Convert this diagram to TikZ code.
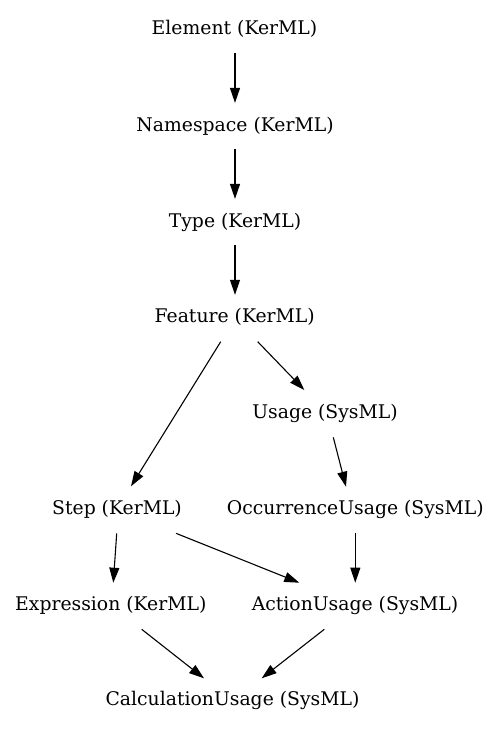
\documentclass[tikz,border=0pt]{standalone}
\usepackage{fontspec}
\setmainfont{DejaVu Serif}
\usetikzlibrary{arrows.meta,calc}
\begin{document}
\begin{tikzpicture}[x=1pt,y=-1pt,
  lbl/.style={anchor=base,inner sep=0pt,font=\fontsize{18.8}{23}\selectfont},
  arr/.style={-{Triangle[length=15pt,width=10pt]},line width=1.1pt}]
\useasboundingbox (0,0) rectangle (499,731);
\node[lbl] (elem)  at (234.5,34.9)  {Element (KerML)};
\node[lbl] (ns)    at (235,131)     {Namespace (KerML)};
\node[lbl] (type)  at (235,227)     {Type (KerML)};
\node[lbl] (feat)  at (234.7,322.9) {Feature (KerML)};
\node[lbl] (usage) at (325,418.8)   {Usage (SysML)};
\node[lbl] (step)  at (117,514.8)   {Step (KerML)};
\node[lbl] (occ)   at (355.3,514.8) {OccurrenceUsage (SysML)};
\node[lbl] (expr)  at (110.8,610.4) {Expression (KerML)};
\node[lbl] (act)   at (355,610.4)   {ActionUsage (SysML)};
\node[lbl] (calc)  at (232.5,705.8) {CalculationUsage (SysML)};
\draw[arr] ($(elem.base)+(0.5,18.4)$) -- ($(ns.base)+(0,-28.1)$);
\draw[arr] ($(ns.base)+(0,18.4)$) -- ($(type.base)+(0,-28.1)$);
\draw[arr] ($(type.base)+(0,18.4)$) -- ($(feat.base)+(0.3,-28.1)$);
\draw[arr] ($(feat.base)+(-14,18.8)$) -- ($(step.base)+(14,-28.5)$);
\draw[arr] ($(feat.base)+(23,18.8)$) -- ($(usage.base)+(-20.7,-28.8)$);
\draw[arr] ($(usage.base)+(8.3,18.5)$) -- ($(occ.base)+(-9.3,-28.1)$);
\draw[arr] ($(step.base)+(-0.3,18.5)$) -- ($(expr.base)+(2.5,-27.7)$);
\draw[arr] ($(step.base)+(59,18.5)$) -- ($(act.base)+(-55.7,-27.7)$);
\draw[arr] ($(occ.base)+(0,18.5)$) -- ($(act.base)+(0.3,-27.7)$);
\draw[arr] ($(expr.base)+(30.9,18.9)$) -- ($(calc.base)+(-28.5,-27.5)$);
\draw[arr] ($(act.base)+(-30.7,18.9)$) -- ($(calc.base)+(29.2,-27.5)$);
\end{tikzpicture}
\end{document}
